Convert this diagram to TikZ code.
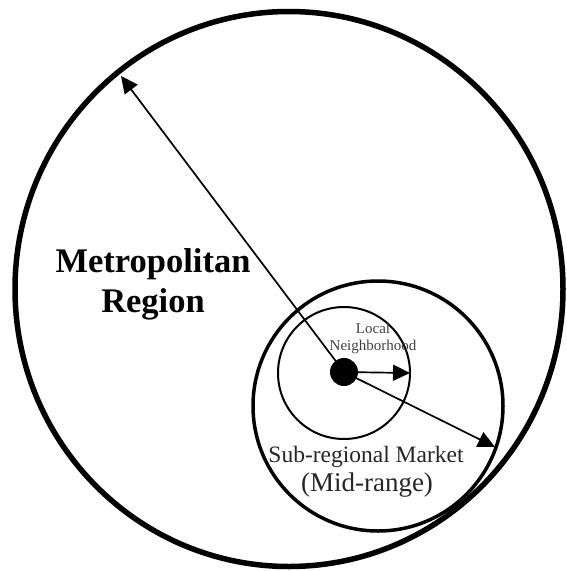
\documentclass[tikz,border=0pt]{standalone}
\usepackage{fontspec}
\setmainfont{Liberation Serif}
\usetikzlibrary{arrows.meta,shapes.geometric}
\begin{document}
\begin{tikzpicture}[x=1pt,y=-1pt,
            ring/.style={draw,circle,inner sep=0pt},
            reach/.style={->,>={Triangle[length=17pt,width=16pt]},line width=1.7pt},
            lbl/.style={anchor=base,inner sep=0pt,text=black!85}]
            \useasboundingbox (0,0) rectangle (566,571);

            % the three market areas
            \node[draw,ellipse,inner sep=0pt,line width=5.5pt,minimum width=548pt,minimum height=555pt] (metro) at (289,289) {};
            \node[ring,line width=3.5pt,minimum size=250pt] (sub) at (378,406) {};
            \node[ring,line width=2pt,minimum size=132pt] (local) at (344,373) {};
            \node[circle,fill=black,inner sep=0pt,minimum size=28pt] (dot) at (344,372) {};

            % reach of each area, from the centre
            \coordinate (tipl) at (410,373);
            \coordinate (tips) at (495,447);
            \coordinate (tipm) at (121,76);
            \draw[reach] (dot.center)--(tipl);
            \draw[reach] (dot.center)--(tips);
            \draw[reach] (dot.center)--(tipm);

            % labels
            \node[lbl,font=\bfseries\fontsize{34.5}{40}\selectfont,text=black] (metname) at (153,272) {Metropolitan};
            \node[lbl,font=\bfseries\fontsize{34.5}{40}\selectfont,text=black] (metreg) at (153,312) {Region};
            \node[lbl,font=\fontsize{15}{17}\selectfont,text=black!75] (locname) at (373,333) {Local};
            \node[lbl,font=\fontsize{15}{17}\selectfont,text=black!75] (locnb) at (373,350) {Neighborhood};
            \node[lbl,font=\fontsize{23.5}{27}\selectfont] (subname) at (366,462) {Sub-regional Market};
            \node[lbl,font=\fontsize{27}{30}\selectfont] (subrange) at (367,491) {(Mid-range)};
        \end{tikzpicture}
\end{document}
